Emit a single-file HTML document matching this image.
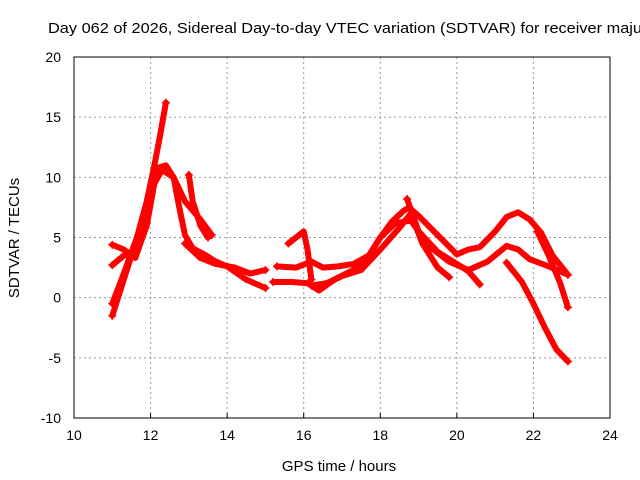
<!DOCTYPE html>
<html><head><meta charset="utf-8"><style>
body{margin:0;background:#fff}
svg{display:block;font-family:"Liberation Sans",sans-serif}
</style></head><body>
<svg id="chart" width="640" height="480">
<rect width="640" height="480" fill="#fff"/>
<text x="48" y="33" font-size="15" textLength="594" lengthAdjust="spacingAndGlyphs" fill="#000">Day 062 of 2026, Sidereal Day-to-day VTEC variation (SDTVAR) for receiver maju</text>
<g id="grid"></g><g id="axes"></g><g id="series"></g>
<text x="339" y="471" font-size="15" text-anchor="middle">GPS time / hours</text>
<text transform="translate(19,238) rotate(-90)" font-size="15" text-anchor="middle">SDTVAR / TECUs</text>
</svg>
<script>
const xTicks=[10,12,14,16,18,20,22,24];
const yTicks=[-10,-5,0,5,10,15,20];
const seriesA=[[11.0,-1.5],[11.3,1.5],[11.6,4.5],[11.9,8],[12.1,11],[12.25,13.5],[12.4,16.2]];
const seriesB=[[11.0,-0.5],[11.3,2],[11.7,5.5],[12.0,9],[12.2,10.8],[12.4,11],[12.6,10],[12.75,7.5],[12.9,5.2],[13.1,4.1],[13.4,3.6],[13.7,3],[14.0,2.6],[14.5,1.5],[15.0,0.8]];
const seriesC=[[11.0,4.4],[11.3,4],[11.6,3.3],[11.9,6],[12.1,9.5],[12.3,10.6],[12.6,10],[12.9,8],[13.3,6.5],[13.6,5.2]];
const seriesD=[[13.0,10.2],[13.1,8],[13.3,6],[13.5,5]];
const seriesE=[[11.0,2.7],[11.3,3.5],[11.6,3.7]];
const seriesF=[[12.9,4.5],[13.3,3.3],[13.7,2.8],[14.2,2.5],[14.6,2],[15.0,2.3]];
const seriesG=[[15.3,2.6],[15.8,2.5],[16.2,3],[16.5,2.5],[16.9,2.6],[17.3,2.8],[17.7,3.5],[18.0,5],[18.3,6.3],[18.6,7.2],[18.75,7.5],[19.0,6.8],[19.5,5.2],[20.0,3.6],[20.3,4],[20.6,4.2],[21.0,5.5],[21.3,6.7],[21.6,7.1],[21.9,6.5],[22.2,5.4],[22.5,3.5],[22.9,1.9]];
const seriesH=[[15.2,1.3],[15.7,1.3],[16.1,1.2],[16.4,0.6],[16.8,1.5],[17.3,2.3],[17.7,3.5],[18.0,5],[18.4,6.2],[18.8,6.4],[19.3,4.2],[19.8,3],[20.3,2.3],[20.8,3],[21.3,4.3],[21.6,4],[21.9,3.2],[22.4,2.6],[22.9,1.9]];
const seriesI=[[16.2,1],[16.6,1.2],[17.0,1.8],[17.5,2.3],[18.0,4],[18.5,5.8],[18.8,7],[19.1,4.5],[19.5,2.5],[19.8,1.7]];
const seriesJ=[[18.7,8.2],[19.0,5.5],[19.5,3.8],[20.0,2.8],[20.3,2.2],[20.6,1.1]];
const seriesK=[[21.3,2.9],[21.7,1.3],[22.0,-0.5],[22.3,-2.5],[22.6,-4.3],[22.9,-5.3]];
const seriesL=[[22.1,5.5],[22.4,3.5],[22.7,1.2],[22.9,-0.8]];
const seriesM=[[15.6,4.5],[16.0,5.5],[16.1,4],[16.2,1.5]];
const seriesList=[seriesA,seriesB,seriesC,seriesD,seriesE,seriesF,seriesG,seriesH,seriesI,seriesJ,seriesK,seriesL,seriesM];
const NS="http://www.w3.org/2000/svg";
const L=74,R=610,T=57,B=418;
const X=v=>L+(v-10)/14*(R-L);
const Y=v=>B-(v+10)/30*(B-T);
function mk(tag,attrs,parent){const e=document.createElementNS(NS,tag);for(const k in attrs)e.setAttribute(k,attrs[k]);parent.appendChild(e);return e;}
const grid=document.getElementById('grid'),axes=document.getElementById('axes'),ser=document.getElementById('series');
xTicks.forEach(t=>{
 if(t>10&&t<24){const g=mk('line',{x1:X(t),x2:X(t),y1:T,y2:B,stroke:'#999','stroke-dasharray':'2,3'},grid);
 
 }
 const tk=mk('line',{x1:X(t),x2:X(t),y1:B,y2:B-5,stroke:'#000'},axes);
 
 
 const tx=mk('text',{x:X(t),y:B+22,'font-size':14,'text-anchor':'middle'},axes);tx.textContent=t;
 
 
});
yTicks.forEach(t=>{
 if(t>-10&&t<20){const g=mk('line',{x1:L,x2:R,y1:Y(t),y2:Y(t),stroke:'#999','stroke-dasharray':'2,3'},grid);
 
 }
 const tx=mk('text',{x:L-13,y:Y(t)+5,'font-size':14,'text-anchor':'end'},axes);tx.textContent=t;
 
 
});
const fr=mk('rect',{x:L,y:T,width:R-L,height:B-T,fill:'none',stroke:'#000','stroke-width':1},axes);


seriesList.forEach((s,i)=>{
 const p=mk('polyline',{points:s.map(d=>X(d[0])+','+Y(d[1])).join(' '),fill:'none',stroke:'#ff0000','stroke-width':6,'stroke-linejoin':'round','stroke-linecap':'round'},ser);
 
 
 [s[0],s[s.length-1]].forEach(d=>{
  const m=mk('path',{d:`M${X(d[0])-4},${Y(d[1])}h8M${X(d[0])},${Y(d[1])-4}v8`,stroke:'#ff0000','stroke-width':1.5},ser);
  
  
 });
});
</script>
</body></html>
